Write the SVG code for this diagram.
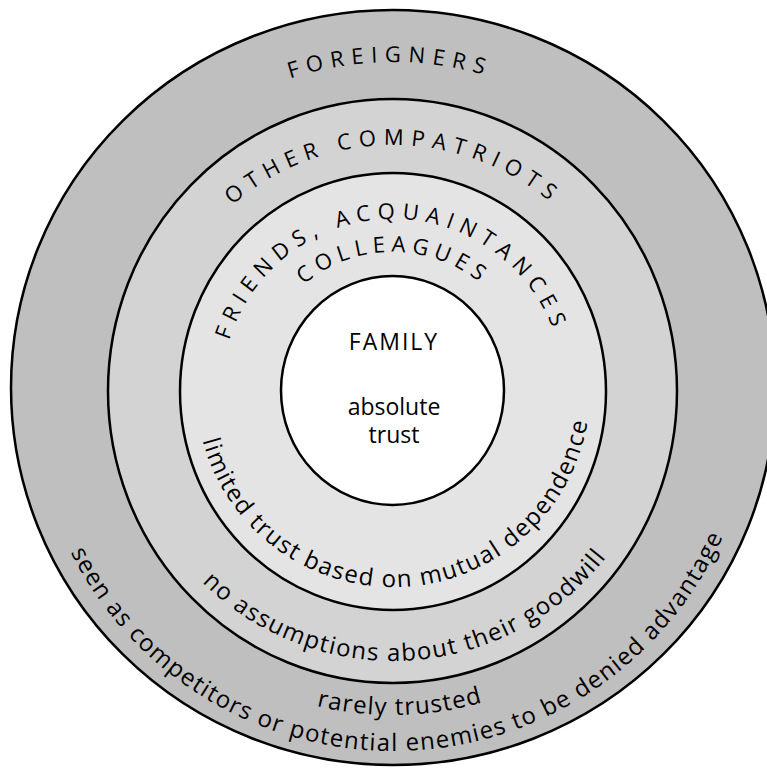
<svg xmlns="http://www.w3.org/2000/svg" xmlns:xlink="http://www.w3.org/1999/xlink" width="767" height="768" viewBox="0 0 767 768">
<style>
.ring{stroke:#000;stroke-width:2.5}
.cap{font-family:"Open Sans","Liberation Sans",sans-serif;font-size:22px;fill:#000;letter-spacing:8px}
.low{font-family:"Open Sans","Liberation Sans",sans-serif;font-size:24px;fill:#000;letter-spacing:1.5px}
.ctr{font-family:"Open Sans","Liberation Sans",sans-serif;font-size:23px;fill:#000;text-anchor:middle}
</style>
<defs>
<path id="pForeigners" d="M290.0,78.6 A328,328 0 0,1 491.1,77.0"/>
<path id="pCompatriots" d="M232.3,205.1 A245,245 0 0,1 554.7,205.9"/>
<path id="pFriends" d="M229.3,340.6 A171,171 0 0,1 554.8,334.6"/>
<path id="pColleagues" d="M303.7,284.7 A138,138 0 0,1 484.4,286.6"/>
<path id="pLimited" d="M202.6,440.6 A197,197 0 0,0 587.6,420.8"/>
<path id="pNoAssump" d="M202.1,582.3 A271,271 0 0,0 606.5,556.8"/>
<path id="pRarely" d="M316.6,705.9 A325,325 0 0,0 483.7,702.1"/>
<path id="pSeen" d="M70.5,552.2 A361,361 0 0,0 723.3,535.7"/>
</defs>
<g id="foreigners">
<ellipse class="ring" cx="393" cy="387.5" rx="382" ry="377.5" fill="#bfbfbf"/>
<text class="cap"><textPath xlink:href="#pForeigners" href="#pForeigners" textLength="204" lengthAdjust="spacing">FOREIGNERS</textPath></text>
<text class="low"><textPath xlink:href="#pSeen" href="#pSeen" textLength="816" lengthAdjust="spacing">seen as competitors or potential enemies to be denied advantage</textPath></text>
<text class="low"><textPath xlink:href="#pRarely" href="#pRarely" textLength="169" lengthAdjust="spacing">rarely trusted</textPath></text>
</g>
<g id="compatriots">
<ellipse class="ring" cx="392.5" cy="391" rx="284.5" ry="292" fill="#d3d3d3"/>
<text class="cap"><textPath xlink:href="#pCompatriots" href="#pCompatriots" textLength="352" lengthAdjust="spacing">OTHER COMPATRIOTS</textPath></text>
<text class="low"><textPath xlink:href="#pNoAssump" href="#pNoAssump" textLength="458" lengthAdjust="spacing">no assumptions about their goodwill</textPath></text>
</g>
<g id="friends">
<ellipse class="ring" cx="393" cy="391.5" rx="213" ry="218.5" fill="#e4e4e4"/>
<text class="cap"><textPath xlink:href="#pFriends" href="#pFriends" textLength="431" lengthAdjust="spacing">FRIENDS, ACQUAINTANCES</textPath><textPath xlink:href="#pColleagues" href="#pColleagues" textLength="197" lengthAdjust="spacing">COLLEAGUES</textPath></text>
<text class="low"><textPath xlink:href="#pLimited" href="#pLimited" textLength="537" lengthAdjust="spacing">limited trust based on mutual dependence</textPath></text>
</g>
<g id="family">
<ellipse class="ring" cx="392.5" cy="390.5" rx="111.5" ry="114.5" fill="#fff"/>
<text class="ctr" x="394" y="350" letter-spacing="2">FAMILY</text>
<text class="ctr"><tspan x="394" y="415">absolute</tspan><tspan x="394" y="443">trust</tspan></text>
</g>
<g id="connectors"/>
</svg>
